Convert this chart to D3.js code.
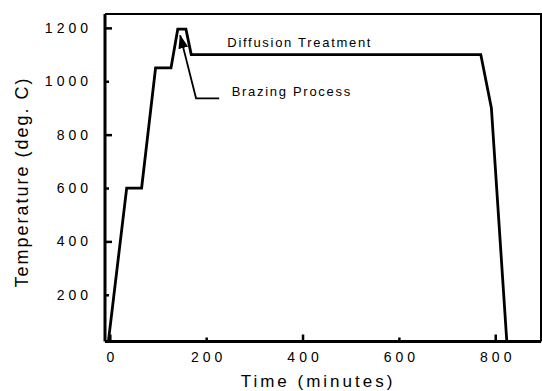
<!DOCTYPE html>
<html>
<head>
<meta charset="utf-8">
<script src="https://cdn.jsdelivr.net/npm/d3@7"></script>
<style>
  body { margin: 0; background: #fff; }
  svg { display: block; font-family: "Liberation Sans", Arial, sans-serif; }
</style>
</head>
<body>
<svg id="chart"></svg>
<script>
// heat treatment profile
const times = [-3, 35, 66, 95, 127, 141, 158, 169, 770, 792, 824];
const temps = [25, 600, 600, 1050, 1050, 1195, 1195, 1100, 1100, 900, 25];

const xTicks = [0, 200, 400, 600, 800];
const yTicks = [200, 400, 600, 800, 1000, 1200];

// annotation anchors (data units)
const diffusionLabel = { t: 244, v: 1128, text: "Diffusion Treatment" };
const brazingLabel = { t: 253, v: 945, text: "Brazing Process" };
const brazingLeader = [[227, 936], [179, 936], [146, 1172]];

const width = 542, height = 391;
const frame = { left: 105, right: 541, top: 14, bottom: 341.5 };

const svg = d3.select("#chart").attr("width", width).attr("height", height);

const x = d3.scaleLinear().domain([-10, 895]).range([frame.left, frame.right]);
const y = d3.scaleLinear().domain([25, 1252]).range([frame.bottom, frame.top]);

// top / right frame (thin)
svg.append("path")
  .attr("d", `M${frame.left},${frame.top}H${frame.right}V${frame.bottom}`)
  .attr("fill", "none").attr("stroke", "#000").attr("stroke-width", 2);

// y axis, ticks pointing in
const yAxis = svg.append("g")
  .attr("transform", `translate(${frame.left},0)`)
  .call(d3.axisLeft(y).tickValues(yTicks).tickFormat(d3.format("d"))
    .tickSizeInner(-7).tickSizeOuter(0).tickPadding(13));
yAxis.select(".domain").attr("stroke-width", 3).attr("d", `M0,${frame.top}V${frame.bottom}`);
yAxis.selectAll(".tick line")
  .attr("x2", d => d % 400 === 0 ? 7 : 4)
  .attr("stroke-width", 2.5);
yAxis.selectAll(".tick text")
  .attr("fill", "#000")
  .style("font-size", "14px")
  .style("letter-spacing", "4px");

// x axis
const xAxis = svg.append("g")
  .attr("transform", `translate(0,${frame.bottom})`)
  .call(d3.axisBottom(x).tickValues(xTicks).tickFormat(d3.format("d"))
    .tickSizeInner(-7).tickSizeOuter(0).tickPadding(11));
xAxis.select(".domain").attr("stroke-width", 3).attr("d", `M${frame.left},0H${frame.right}`);
xAxis.selectAll(".tick line")
  .attr("y2", d => d % 400 === 0 ? -7 : -4)
  .attr("stroke-width", 2.5);
xAxis.selectAll(".tick text")
  .attr("fill", "#000")
  .attr("dx", "2px")
  .style("font-size", "14px")
  .style("letter-spacing", "4px");

// axis titles
svg.append("text")
  .attr("x", 318).attr("y", 387)
  .attr("text-anchor", "middle")
  .style("font-size", "17px")
  .style("letter-spacing", "3px")
  .text("Time (minutes)");

svg.append("text")
  .attr("transform", "translate(28,182) rotate(-90)")
  .attr("text-anchor", "middle")
  .style("font-size", "18px")
  .style("letter-spacing", "2px")
  .text("Temperature (deg. C)");

// profile line
const line = d3.line().x(d => x(d[0])).y(d => y(d[1]));
svg.append("path")
  .datum(times.map((t, i) => [t, temps[i]]))
  .attr("d", line)
  .attr("fill", "none")
  .attr("stroke", "#000")
  .attr("stroke-width", 2.8)
  .attr("stroke-linejoin", "miter");

// leader + arrow for brazing
svg.append("defs").append("marker")
  .attr("id", "arrow")
  .attr("viewBox", "0 0 14 10")
  .attr("refX", 13).attr("refY", 5)
  .attr("markerWidth", 14).attr("markerHeight", 10)
  .attr("markerUnits", "userSpaceOnUse")
  .attr("orient", "auto")
  .append("path").attr("d", "M0,0L14,5L0,10Z").attr("fill", "#000");

svg.append("path")
  .datum(brazingLeader)
  .attr("d", line)
  .attr("fill", "none")
  .attr("stroke", "#000")
  .attr("stroke-width", 1.8)
  .attr("marker-end", "url(#arrow)");

// annotation labels
[diffusionLabel, brazingLabel].forEach(l => {
  svg.append("text")
    .attr("x", x(l.t)).attr("y", y(l.v))
    .style("font-size", "13px")
    .style("letter-spacing", "1.7px")
    .text(l.text);
});
</script>
</body>
</html>
